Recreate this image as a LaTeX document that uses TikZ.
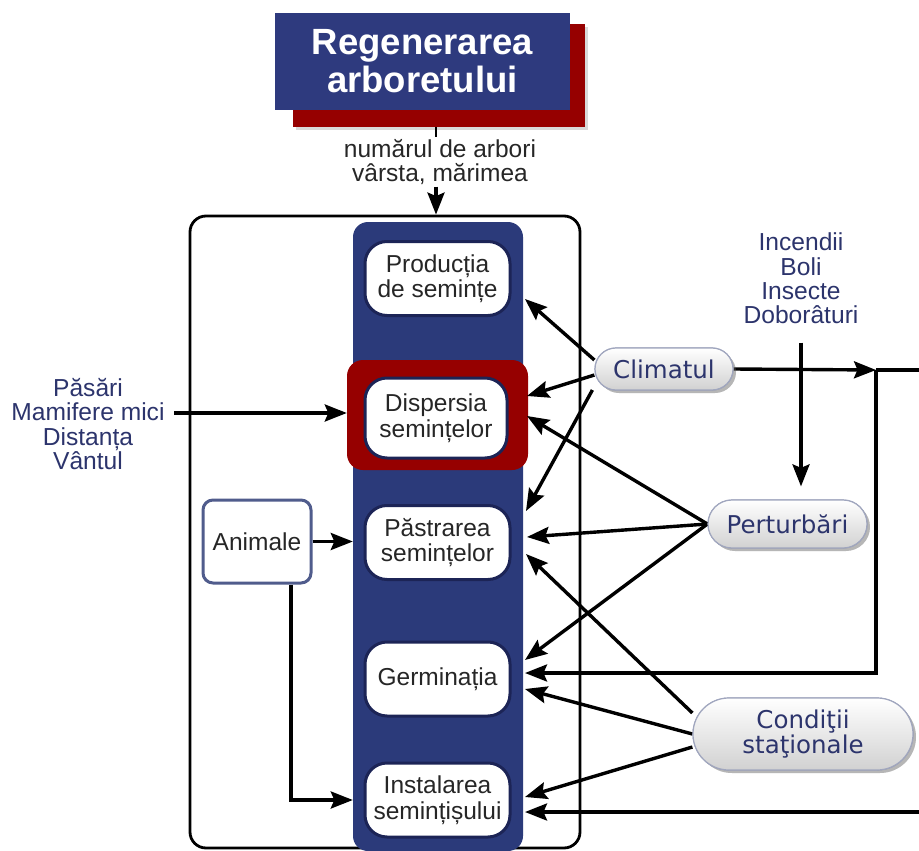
\documentclass[tikz,border=0pt]{standalone}
\usepackage{fontspec}
\setmainfont{Liberation Sans}
\newfontfamily\verd{DejaVu Sans}
\usetikzlibrary{arrows.meta,shapes.misc,shadows,calc}
\definecolor{colblue}{RGB}{43,58,122}
\definecolor{titleblue}{RGB}{46,58,126}
\definecolor{darkred}{RGB}{150,0,0}
\definecolor{ringblue}{RGB}{28,36,86}
\definecolor{labnavy}{RGB}{44,52,108}
\definecolor{animborder}{RGB}{80,92,140}
\definecolor{pillborder}{RGB}{160,166,190}
\tikzset{
 arr/.style={line width=3.4pt, -{Stealth[length=22pt,width=17pt,inset=3.5pt]}},
 ln/.style={line width=3.4pt},
 stage/.style={draw=ringblue, line width=3pt, fill=white, rounded corners=22pt, minimum width=145pt, minimum height=74pt, inner sep=0pt, align=center, font=\fontsize{24.5}{25.5}\selectfont, text=black!85},
 pill/.style={rounded rectangle, draw=pillborder, line width=1.2pt, top color=white, bottom color=black!18, drop shadow={shadow xshift=3pt, shadow yshift=-3pt, opacity=0.35}, inner sep=0pt, align=center, text=labnavy, font=\verd\fontsize{24.5}{25}\selectfont},
 lab/.style={align=center, text=labnavy, font=\fontsize{24.6}{24.4}\selectfont},
}
\begin{document}
\begin{tikzpicture}[x=1pt,y=-1pt]
\useasboundingbox (0,0) rectangle (919,851);
% title
\node[fill=darkred, minimum width=292pt, minimum height=103pt, inner sep=0pt, drop shadow={shadow xshift=3pt, shadow yshift=-3pt, opacity=0.3}] (tshadow) at (439,75.5) {};
\node[fill=titleblue, minimum width=295pt, minimum height=97pt, inner sep=0pt, text=white, font=\bfseries\fontsize{36.5}{38}\selectfont, align=center] (title) at (422.5,61.5) {Regenerarea\\arboretului};
\coordinate (topx) at (436,0);
\node[font=\fontsize{24.5}{23.5}\selectfont, align=center, text=black!85, inner sep=2pt] (numtxt) at (440,162) {numărul de arbori\\vârsta, mărimea};
% outer box and column
\node[draw, line width=2.8pt, rounded corners=16pt, minimum width=390pt, minimum height=632pt, inner sep=0pt] (outer) at (385,532) {};
\draw[line width=1.5pt] (tshadow.south -| topx) -- (numtxt.north -| topx);
\draw[arr] (numtxt.south -| topx) -- (outer.north -| topx);
\node[fill=colblue, rounded corners=15pt, minimum width=170pt, minimum height=629pt, inner sep=0pt] (col) at (438,536.5) {};
\node[fill=darkred, rounded corners=16pt, minimum width=181pt, minimum height=110pt, inner sep=0pt] (redbox) at (437.5,415) {};
% stages
\node[stage] (prod) at (437.5,278.5) {Producția\\de semințe};
\node[stage, minimum width=142pt, minimum height=80pt] (disp) at (436,418) {Dispersia\\semințelor};
\node[stage] (past) at (437.5,542.5) {Păstrarea\\semințelor};
\node[stage] (germ) at (437.5,679) {Germinația};
\node[stage] (inst) at (437.5,800) {Instalarea\\semințișului};
% Animale
\node[draw=animborder, line width=3pt, rounded corners=10pt, fill=white, minimum width=108pt, minimum height=83pt, font=\fontsize{24.5}{25}\selectfont, text=black!85, inner sep=0pt] (anim) at (257,541.5) {Animale};
\coordinate (animdown) at (291,0);
\draw[arr] (anim.east) -- (col.west |- anim.east);
\draw[arr] (anim.south -| animdown) |- (col.west |- inst);
% left labels
\node[lab] (birds) at (88,424) {Păsări\\Mamifere mici\\Distanța\\Vântul};
\coordinate (bstart) at (174,413);
\draw[arr] (bstart) -- (redbox.west |- bstart);
% pills
\node[pill, minimum width=138pt, minimum height=42pt] (clim) at (664,369) {Climatul};
\node[pill, minimum width=159pt, minimum height=48pt] (pert) at (787.5,524) {Perturbări};
\node[pill, minimum width=220pt, minimum height=72pt] (cond) at (803,734) {Condiţii\\staţionale};
\node[lab] (dist) at (801,278.5) {Incendii\\Boli\\Insecte\\Doborâturi};
% target points on column edge
\coordinate (tProd) at (525,299);
\coordinate (tDisp1) at (527,396);
\coordinate (tDisp2) at (527,416);
\coordinate (tPast1) at (526,511);
\coordinate (tPast2) at (527,537);
\coordinate (tPast3) at (526,554);
\coordinate (tGerm1) at (525,660);
\coordinate (tGerm2) at (525,673);
\coordinate (tGerm3) at (525,689);
\coordinate (tInst1) at (525,797);
\coordinate (tInst2) at (525,812);
\coordinate (J) at (876,370);
\coordinate (rt) at (919,370);
\coordinate (rb) at (919,812);
% arrows
\draw[arr] ([yshift=9pt]clim.west) -- (tProd);
\draw[arr] ([yshift=-6pt]clim.west) -- (tDisp1);
\draw[arr] ([yshift=-21pt,xshift=-2pt]clim.west) -- (tPast1);
\draw[arr] (pert.west) -- (tDisp2);
\draw[arr] (pert.west) -- (tPast2);
\draw[arr] (pert.west) -- (tGerm1);
\draw[arr] ([yshift=21pt]cond.west) -- (tPast3);
\draw[arr] (cond.west) -- (tGerm3);
\draw[arr] ([yshift=-13pt]cond.west) -- (tInst1);
\draw[arr] (clim.east) -- (J);
\draw[ln] (J) -- (rt);
\draw[arr] (J) |- (tGerm2);
\draw[arr] (rb) -- (tInst2);
\draw[arr, shorten <=15pt, shorten >=13pt] (dist.south) -- (dist.south |- pert.north);
% redraw pills on top
\node[pill, minimum width=138pt, minimum height=42pt] at (clim) {Climatul};
\node[pill, minimum width=159pt, minimum height=48pt] at (pert) {Perturbări};
\node[pill, minimum width=220pt, minimum height=72pt] at (cond) {Condiţii\\staţionale};
\end{tikzpicture}
\end{document}
